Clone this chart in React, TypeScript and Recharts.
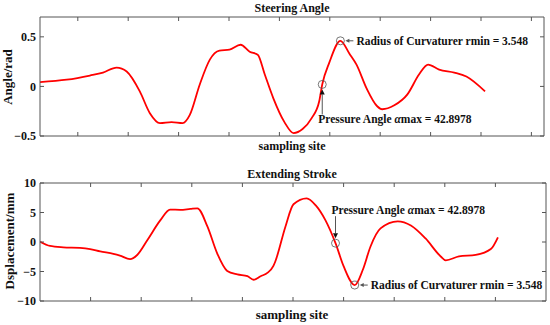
import React from 'react';
import { LineChart, Line, XAxis, YAxis, ReferenceDot } from 'recharts';

// sampling positions and values
const angleSites = [0, 5.3, 9.9, 12.5, 15.2, 17.2, 19.8, 21.8, 23.8, 26.1, 28.3, 29.7, 31.7, 33.7, 35.6, 37.6, 39.8, 41.6, 43.2, 44.6, 46.3, 48.5, 50.3, 52.1, 53.9, 55.4, 56.0, 57.4, 59.6, 61.4, 62.8, 64.8, 66.9, 67.9, 70.3, 72.9, 75.2, 77.0, 79.2, 82.2, 84.6, 88.3];
const angleValues = [0.044, 0.068, 0.11, 0.14, 0.19, 0.15, -0.05, -0.27, -0.37, -0.36, -0.37, -0.29, 0.02, 0.27, 0.36, 0.37, 0.42, 0.35, 0.32, 0.12, -0.12, -0.36, -0.47, -0.43, -0.32, -0.15, 0.02, 0.24, 0.46, 0.33, 0.22, -0.02, -0.2, -0.23, -0.19, -0.08, 0.12, 0.22, 0.17, 0.14, 0.1, -0.05];

const strokeSites = [0, 2.0, 4.6, 7.9, 9.9, 11.9, 14.5, 15.8, 17.8, 19.2, 21.2, 23.8, 25.7, 27.7, 29.7, 31.1, 33.1, 35.0, 37.0, 39.0, 41.0, 42.2, 43.6, 45.0, 46.1, 46.5, 48.5, 50.1, 52.7, 54.5, 56.4, 58.4, 60.0, 62.2, 63.8, 65.3, 67.3, 70.7, 73.3, 76.2, 79.2, 80.2, 82.8, 86.1, 89.1, 90.5];
const strokeValues = [0.05, -0.67, -0.9, -1.0, -1.2, -1.6, -2.0, -2.3, -2.9, -2.2, 0.3, 3.7, 5.5, 5.45, 5.6, 5.7, 2.6, -1.9, -4.9, -5.5, -5.8, -6.4, -5.8, -5.2, -4.1, -3.3, 2.6, 6.4, 7.4, 6.2, 3.7, -0.2, -4.1, -7.3, -4.7, -0.8, 2.3, 3.5, 2.8, 0.6, -2.45, -3.1, -2.45, -2.2, -1.2, 0.8];

const angleTicks = [-0.5, 0, 0.5];
const strokeTicks = [-10, -5, 0, 5, 10];
const angleSiteTicks = [7.5, 17.5, 27.5, 37.5, 47.5, 57.5, 67.5, 77.5, 87.5, 97.5];
const strokeSiteTicks = [10, 20, 30, 40, 50, 60, 70, 80, 90];

// marked points: [site, value]
const anglePressure = [56.0, 0.02];
const angleRadius = [59.6, 0.46];
const strokePressure = [58.4, -0.2];
const strokeRadius = [62.2, -7.3];

const pressureText = ['Pressure Angle ', '\u03b1', 'max = 42.8978'];
const radiusText = 'Radius of Curvaturer rmin = 3.548';

const FONT = "'Liberation Serif', 'Times New Roman', serif";
const AXIS = '#555555';
const RED = '#ff0000';
const MARK = '#555555';

const angleData = angleSites.map((s, i) => ({ site: s, value: angleValues[i] }));
const strokeData = strokeSites.map((s, i) => ({ site: s, value: strokeValues[i] }));

const fmt = (v: number) => (v < 0 ? '\u2212' + Math.abs(v) : String(v));
const blank = () => '';

// circle with an arrow and a note; dir says where the note sits
const marker = (dir: 'right' | 'above' | 'below') => (props: any) => {
  const { cx, cy } = props;
  const r = 4;
  let arrow = null;
  let text = null;
  if (dir === 'right') {
    arrow = (
      <g>
        <line x1={cx + 13} y1={cy} x2={cx + r + 3} y2={cy} stroke={MARK} strokeWidth={1} />
        <polygon points={`${cx + r + 1},${cy} ${cx + r + 5},${cy - 2} ${cx + r + 5},${cy + 2}`} fill={MARK} />
      </g>
    );
    text = (
      <text x={cx + 16} y={cy + 4} fontFamily={FONT} fontSize={11.5} fontWeight="bold" fill="#111">
        {radiusText}
      </text>
    );
  } else {
    const up = dir === 'below';
    const start = up ? cy + 30 : cy - 27;
    const tip = up ? cy + r + 1 : cy - r - 1;
    const back = up ? tip + 5 : tip - 5;
    arrow = (
      <g>
        <line x1={cx} y1={start} x2={cx} y2={back} stroke={MARK} strokeWidth={1} />
        <polygon points={`${cx},${tip} ${cx - 2.5},${back} ${cx + 2.5},${back}`} fill="#111" />
      </g>
    );
    text = (
      <text x={cx - 4} y={up ? cy + 39 : cy - 29} fontFamily={FONT} fontSize={11.5} fontWeight="bold" fill="#111">
        {pressureText[0]}
        <tspan fontStyle="italic">{pressureText[1]}</tspan>
        {pressureText[2]}
      </text>
    );
  }
  return (
    <g>
      <circle cx={cx} cy={cy} r={r} fill="none" stroke={MARK} strokeWidth={0.8} />
      {arrow}
      {text}
    </g>
  );
};

const labelStyle: React.CSSProperties = {
  position: 'absolute',
  fontFamily: FONT,
  fontWeight: 'bold',
  fontSize: 12,
  color: '#111',
  whiteSpace: 'nowrap',
};

interface PanelProps {
  data: { site: number; value: number }[];
  yDomain: number[];
  yTicks: number[];
  xTicks: number[];
  margin: { top: number; right: number; bottom: number; left: number };
  height: number;
  marks: { point: number[]; dir: 'right' | 'above' | 'below' }[];
}

const Panel = ({ data, yDomain, yTicks, xTicks, margin, height, marks }: PanelProps) => (
  <LineChart width={550} height={height} data={data} margin={margin}>
    <XAxis xAxisId="b" dataKey="site" type="number" domain={[0, 100]} ticks={xTicks} interval={0} allowDataOverflow
      orientation="bottom" height={1} tickSize={-4} tickFormatter={blank} stroke={AXIS} />
    <XAxis xAxisId="t" dataKey="site" type="number" domain={[0, 100]} ticks={xTicks} interval={0} allowDataOverflow
      orientation="top" height={1} tickSize={-4} tickFormatter={blank} stroke={AXIS} />
    <YAxis yAxisId="l" type="number" domain={yDomain} ticks={yTicks} interval={0} allowDataOverflow width={40}
      tickSize={-4} tickMargin={8} tickFormatter={fmt} stroke={AXIS}
      tick={{ fontFamily: FONT, fontSize: 12, fontWeight: 'bold', fill: '#111' }} />
    <YAxis yAxisId="r" orientation="right" type="number" domain={yDomain} ticks={yTicks} interval={0} allowDataOverflow
      width={1} tickSize={-4} tickFormatter={blank} stroke={AXIS} />
    {/* carrier series so the mirrored top/right axes get drawn */}
    <Line xAxisId="t" yAxisId="r" dataKey="value" stroke="none" dot={false} activeDot={false}
      isAnimationActive={false} legendType="none" />
    <Line xAxisId="b" yAxisId="l" dataKey="value" type="monotone" stroke={RED} strokeWidth={1.8}
      dot={false} isAnimationActive={false} />
    {marks.map((m, i) => (
      <ReferenceDot key={i} xAxisId="b" yAxisId="l" x={m.point[0]} y={m.point[1]} r={4}
        shape={marker(m.dir)} />
    ))}
  </LineChart>
);

export default function App() {
  return (
    <div style={{ position: 'absolute', left: 0, top: 0, width: 550, height: 325, background: '#fff' }}>
      <div style={{ position: 'absolute', left: 0, top: 0, width: 550, height: 160 }}>
        <Panel data={angleData} yDomain={[-0.5, 0.7]} yTicks={angleTicks} xTicks={angleSiteTicks}
          margin={{ top: 16, right: 5, bottom: 13, left: 0 }} height={150}
          marks={[{ point: anglePressure, dir: 'below' }, { point: angleRadius, dir: 'right' }]} />
        <div style={{ ...labelStyle, left: 292, top: 1, transform: 'translateX(-50%)' }}>Steering Angle</div>
        <div style={{ ...labelStyle, left: 292, top: 139, transform: 'translateX(-50%)' }}>sampling site</div>
        <div style={{ ...labelStyle, fontSize: 13, left: 8, top: 77, transform: 'translate(-50%, -50%) rotate(-90deg)' }}>Angle/rad</div>
      </div>
      <div style={{ position: 'absolute', left: 0, top: 160, width: 550, height: 165 }}>
        <Panel data={strokeData} yDomain={[-10, 10]} yTicks={strokeTicks} xTicks={strokeSiteTicks}
          margin={{ top: 22, right: 3, bottom: 23, left: 0 }} height={165}
          marks={[{ point: strokePressure, dir: 'above' }, { point: strokeRadius, dir: 'right' }]} />
        <div style={{ ...labelStyle, left: 292, top: 7, transform: 'translateX(-50%)' }}>Extending Stroke</div>
        <div style={{ ...labelStyle, fontSize: 13, left: 292, top: 147, transform: 'translateX(-50%)' }}>sampling site</div>
        <div style={{ ...labelStyle, fontSize: 13, left: 10, top: 81, transform: 'translate(-50%, -50%) rotate(-90deg)' }}>Dsplacement/mm</div>
      </div>
    </div>
  );
}
